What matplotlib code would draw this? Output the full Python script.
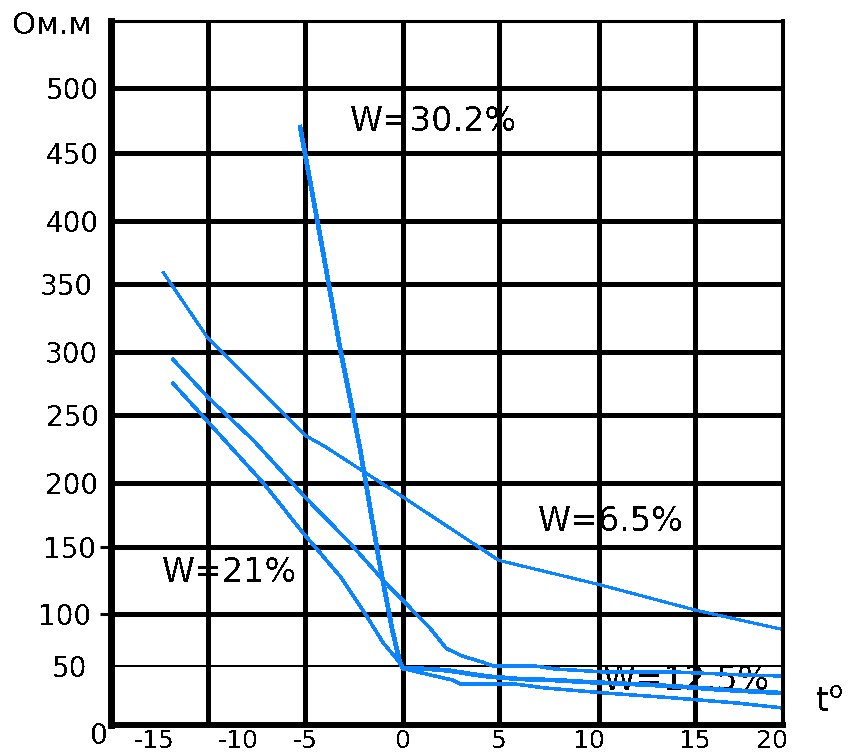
import numpy as np
import matplotlib
matplotlib.use("Agg")
import matplotlib.pyplot as plt
from matplotlib.transforms import ScaledTranslation

plt.rcParams["font.family"] = ["DejaVu Sans"]
plt.rcParams["lines.antialiased"] = False
plt.rcParams["text.antialiased"] = False

# temperature, deg C / resistivity, Ohm*m
w65_t = [-12.3, -10, -5, -4.0, 0, 5, 10, 15, 20]
w65_r = [359, 310, 235, 227, 189, 140, 122, 103, 85]

w302_t = [-5.25, -4.1, -3.2, -2.2, -1.2, -0.55, -0.15, 0, 1.4, 2.45, 3.6,
          4.5, 6.0, 7.8, 9.3, 12.7, 14.7, 16.4, 20]
w302_r = [470, 377, 302, 226, 138, 85, 53, 48, 47.5, 46, 43,
          41, 39, 38, 36.5, 34, 32, 30, 27]

w21_t = [-11.8, -10, -7.7, -5, -2.7, -1.0, 0, 1.4, 2.25, 3.1, 4.1, 4.7,
         6.8, 7.8, 10.2, 13.8, 17.6, 20]
w21_r = [294, 264, 232, 189, 153, 125, 110, 86.5, 67, 59.5, 54, 50,
         50, 47.5, 45, 45, 42.5, 41.5]

w125_t = [-11.8, -10, -7.15, -5.1, -3.2, -2.05, -1.0, -0.15, 0, 0.75, 2.6,
          3.0, 5.8, 7.3, 10.4, 13.85, 17.4, 20]
w125_r = [275, 245, 200, 161, 128, 103, 72, 53, 48, 45, 38,
          34.7, 34.7, 31.4, 27, 23, 18.6, 14.4]

x_ticks = [-15, -10, -5, 0, 5, 10, 15, 20]
x_labels = ["-15", "-10", "-5", "0", "5", "10", "15", "20"]
y_ticks = [0, 50, 100, 150, 200, 250, 300, 350, 400, 450, 500]
y_labels = [str(v) for v in y_ticks]

# the hand drawn grid is not evenly spaced: tick value -> pixel offset
X_PX = [0, 97, 194, 292, 388, 488, 584, 672]
Y_VALS = y_ticks + [550]
Y_PX = [0, 59, 111, 178, 242, 310, 373, 441, 504, 572, 637, 704]


def fwd_x(v):
    return np.interp(v, x_ticks, X_PX)


def inv_x(p):
    return np.interp(p, X_PX, x_ticks)


def fwd_y(v):
    return np.interp(v, Y_VALS, Y_PX)


def inv_y(p):
    return np.interp(p, Y_PX, Y_VALS)


blue = "#0a84ff"

fig = plt.figure(figsize=(8.52, 7.56), dpi=100)
ax = fig.add_axes([111 / 852, 1 - 725 / 756, 672 / 852, 704 / 756])

ax.set_xscale("function", functions=(fwd_x, inv_x))
ax.set_yscale("function", functions=(fwd_y, inv_y))
ax.set_xlim(-15, 20)
ax.set_ylim(0, 550)

ax.plot(w65_t, w65_r, color=blue, lw=1.5)
ax.plot(w21_t, w21_r, color=blue, lw=1.8)
ax.plot(w125_t, w125_r, color=blue, lw=1.8)
ax.plot(w302_t, w302_r, color=blue, lw=2.6)

ax.set_xticks(x_ticks)
ax.set_xticklabels(x_labels)
ax.set_yticks(y_ticks)
ax.set_yticklabels(y_labels)
ax.set_axisbelow(True)
ax.grid(True, color="black", lw=2.2)
ax.get_ygridlines()[1].set_linewidth(1.4)

ax.tick_params(axis="x", length=0, pad=3, labelsize=18)
ax.tick_params(axis="y", length=8, width=2.2, pad=1, labelsize=20)
for tick, v in zip(ax.yaxis.get_major_ticks(), y_ticks):
    tick.tick1line.set_visible(v in (100, 150))

for sp, w in (("left", 5), ("bottom", 4.3), ("right", 2.9), ("top", 2.2)):
    ax.spines[sp].set_linewidth(w)
    ax.spines[sp].set_color("black")

# labels that sit off their grid line in the original
x_shift = {"-15": 43, "-10": 30, "10": -10, "20": -11}
for lab in ax.get_xticklabels():
    dx = x_shift.get(lab.get_text(), 0)
    lab.set_transform(lab.get_transform() + ScaledTranslation(dx / 100, 0, fig.dpi_scale_trans))
y_shift = {"0": (9, -8), "350": (-5, 0), "150": (-3, 0), "100": (-7, 0), "50": (-11, 0)}
for lab in ax.get_yticklabels():
    dx, dy = y_shift.get(lab.get_text(), (0, 0))
    lab.set_transform(lab.get_transform() + ScaledTranslation(dx / 100, dy / 100, fig.dpi_scale_trans))

ax.text(-2.7, 474, "W=30.2%", fontsize=24, va="center", zorder=1.8)
ax.text(6.95, 170, "W=6.5%", fontsize=24, va="center", zorder=1.8)
ax.text(-12.4, 131, "W=21%", fontsize=24, va="center", zorder=1.8)
ax.text(10.2, 38, "W=12.5%", fontsize=24, va="center", zorder=1.8)

fig.text(12 / 852, 1 - 26 / 756, "Ом.м", fontsize=22, va="center", ha="left")
fig.text(815 / 852, 1 - 712 / 756, r"t$^{\mathregular{o}}$", fontsize=24, va="baseline", ha="left")

fig.savefig("out.png", dpi=100)
